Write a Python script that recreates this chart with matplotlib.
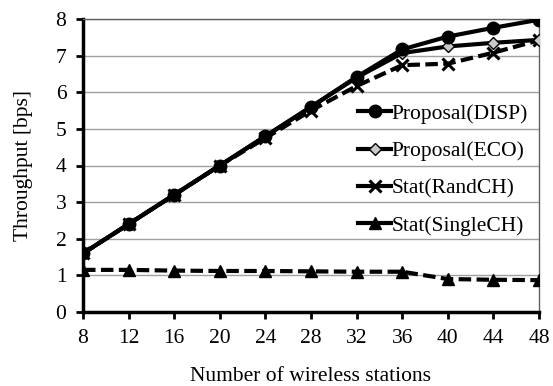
import numpy as np
import matplotlib
matplotlib.use("Agg")
import matplotlib.pyplot as plt

plt.rcParams['font.family'] = ['Liberation Serif', 'DejaVu Serif']

# data
stations = [8, 12, 16, 20, 24, 28, 32, 36, 40, 44, 48]
disp = [1.6, 2.4, 3.2, 4.0, 4.8, 5.6, 6.42, 7.17, 7.52, 7.76, 7.98]
eco = [1.6, 2.4, 3.2, 4.0, 4.8, 5.6, 6.4, 7.07, 7.25, 7.35, 7.43]
randch = [1.6, 2.4, 3.2, 4.0, 4.75, 5.5, 6.17, 6.74, 6.78, 7.08, 7.42]
singlech = [1.15, 1.15, 1.13, 1.12, 1.12, 1.11, 1.1, 1.1, 0.9, 0.88, 0.87]

fig = plt.figure(figsize=(5.53, 3.86), dpi=100)
ax = fig.add_axes([83/553, 1 - 312/386, (539 - 83)/553, (312 - 19)/386])

ax.plot(stations, disp, color='black', lw=3, marker='o', ms=9,
        label='Proposal(DISP)', zorder=5)
ax.plot(stations, eco, color='black', lw=3, marker='D', ms=6.5,
        mfc='#c8c8c8', mec='black', mew=1, label='Proposal(ECO)', zorder=4)
ax.plot(stations, randch, color='black', lw=3, ls=(0, (3, 1.3)), marker='x',
        ms=9, mew=2.2, label='Stat(RandCH)', zorder=3)
ax.plot(stations, singlech, color='black', lw=3, ls=(0, (3, 1.3)), marker='^',
        ms=9, label='Stat(SingleCH)', zorder=3)

ax.set_xlim(8, 48)
ax.set_ylim(0, 8)
ax.set_xticks(stations)
ax.set_yticks(range(0, 9))
ax.yaxis.grid(True, color='#a0a0a0', lw=1)
ax.set_axisbelow(True)
ax.tick_params(labelsize=15.5, direction='out', width=2, length=5)
ax.tick_params(axis='x', pad=7)
ax.tick_params(axis='y', pad=7)

for s in ['left', 'bottom']:
    ax.spines[s].set_linewidth(2.5)
for s in ['right', 'top']:
    ax.spines[s].set_linewidth(1)
    ax.spines[s].set_color('#606060')

ax.set_xlabel('Number of wireless stations', fontsize=15.5, labelpad=14)
ax.set_ylabel('Throughput [bps]', fontsize=15.5, labelpad=16)

leg = ax.legend(loc='center right', bbox_to_anchor=(1.0, 0.485), frameon=False,
                fontsize=15.5, handlelength=1.5, handletextpad=0.05,
                labelspacing=0.8, borderaxespad=0.1)
for ln in leg.get_lines():
    ln.set_linestyle('-')

fig.savefig('out.png', dpi=100)
